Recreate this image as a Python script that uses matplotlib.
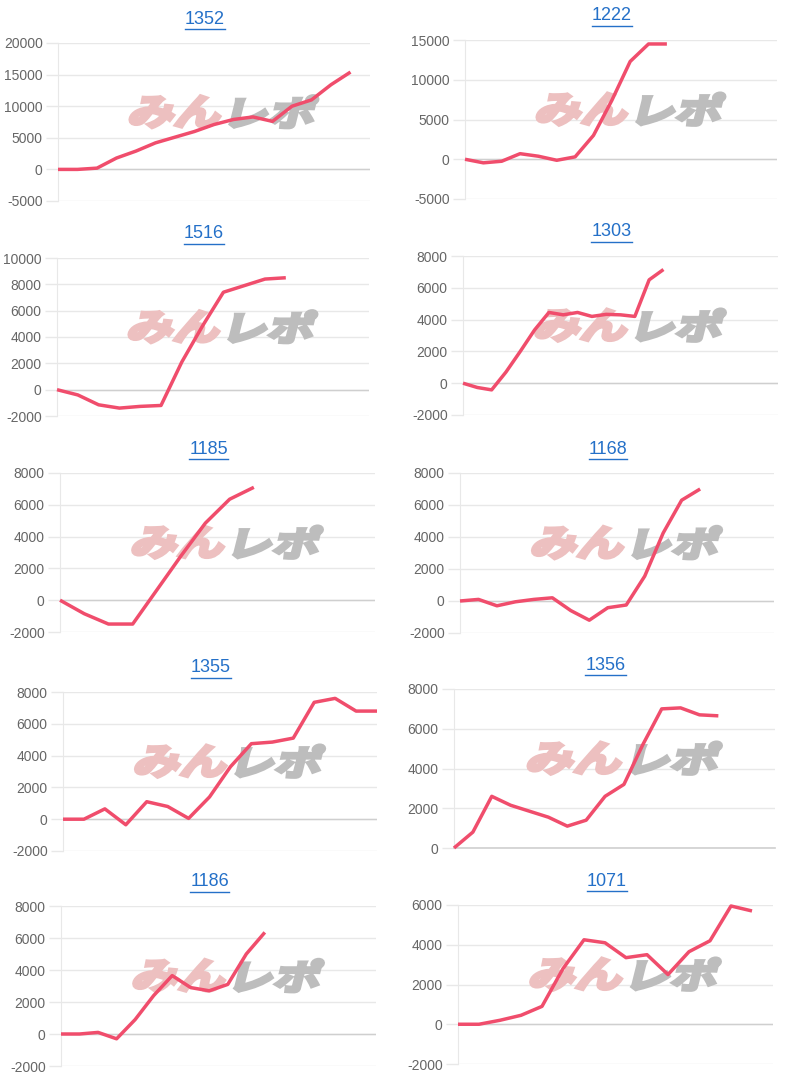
import matplotlib
matplotlib.use('Agg')
import matplotlib.pyplot as plt
from matplotlib.textpath import TextPath
from matplotlib.font_manager import FontProperties
from matplotlib.patches import PathPatch
from matplotlib.transforms import Affine2D, IdentityTransform
from matplotlib.lines import Line2D
import numpy as np

# ---------------- data ----------------
titles = ['1352', '1222', '1516', '1303', '1185', '1168', '1355', '1356', '1186', '1071']

v1352 = [0, 0, 200, 1800, 2900, 4200, 5100, 6000, 7100, 7900, 8300, 7600, 10000, 11000, 13400, 15400]
v1222 = [0, -450, -250, 700, 380, -130, 300, 3000, 7400, 12300, 14500, 14500]
v1516 = [0, -400, -1150, -1400, -1270, -1200, 2100, 4850, 7400, 7900, 8400, 8500]
v1303 = [0, -270, -420, 700, 2000, 3350, 4450, 4300, 4450, 4200, 4330, 4300, 4200, 6500, 7150]
v1185 = [0, -850, -1500, -1500, 650, 2800, 4850, 6350, 7100]
v1168 = [0, 100, -300, -50, 100, 200, -600, -1200, -420, -250, 1550, 4250, 6300, 7000]
v1355 = [0, 0, 650, -350, 1100, 800, 50, 1400, 3300, 4750, 4850, 5100, 7350, 7600, 6800, 6800]
v1356 = [0, 800, 2600, 2150, 1850, 1550, 1100, 1400, 2600, 3200, 5200, 7000, 7050, 6700, 6650]
v1186 = [0, 0, 100, -300, 900, 2400, 3650, 2900, 2700, 3100, 5000, 6350]
v1071 = [0, 0, 200, 450, 900, 2800, 4250, 4100, 3350, 3500, 2500, 3650, 4200, 5950, 5700]

series = [v1352, v1222, v1516, v1303, v1185, v1168, v1355, v1356, v1186, v1071]

# y ranges (min, max, step) and x slot counts
y_ranges = [(-5000, 20000, 5000), (-5000, 15000, 5000), (-2000, 10000, 2000), (-2000, 8000, 2000),
            (-2000, 8000, 2000), (-2000, 8000, 2000), (-2000, 8000, 2000), (0, 8000, 2000),
            (-2000, 8000, 2000), (-2000, 6000, 2000)]
x_slots = [16, 17, 15, 22, 13, 17, 15, 17, 17, 15]

# ---------------- layout (pixels: left, top, right, bottom) ----------------
boxes = [(58, 43, 370, 201), (465, 40, 777, 199),
         (57, 258, 369, 416), (463, 256, 778, 415),
         (60, 473, 375, 632), (460, 473, 774, 633),
         (63, 692, 377, 851), (454, 689, 775, 848),
         (61, 906, 376, 1066), (458, 905, 773, 1064)]

W, H = 800, 1080
LINE = '#f04d6c'
GRID = '#e8e8e8'
ZERO = '#cfcfcf'
TICK = '#666666'
TITLE = '#2470c8'
FONT = 'Liberation Sans'

fig = plt.figure(figsize=(W / 100, H / 100), dpi=100)
fig.patch.set_facecolor('white')

wm_font = FontProperties(family=['Noto Sans CJK JP', 'DejaVu Sans'], weight='bold')


def word_patch(ax, text, color, fx0, fx1, fy0, fy1):
    path = TextPath((0, 0), text, size=1, prop=wm_font)
    ext = path.get_extents()
    (px0, py0) = ax.transAxes.transform((fx0, fy0))
    (px1, py1) = ax.transAxes.transform((fx1, fy1))
    h = py1 - py0
    skew = 14
    shift = h * np.tan(np.radians(skew))
    w = (px1 - px0) - shift
    tr = (Affine2D().translate(-ext.x0, -ext.y0)
          .scale(w / ext.width, h / ext.height)
          .skew_deg(skew, 0)
          .translate(px0, py0))
    p = PathPatch(path, facecolor=color, edgecolor=color, lw=2.6,
                  joinstyle='miter', transform=tr, zorder=1.5)
    ax.add_patch(p)


title_texts = []
axes = []
for i in range(10):
    l, t, r, b = boxes[i]
    ax = fig.add_axes([l / W, 1 - b / H, (r - l) / W, (b - t) / H])
    axes.append(ax)
    vals = series[i]
    ymin, ymax, step = y_ranges[i]
    x = np.arange(len(vals))
    ax.plot(x, vals, color=LINE, lw=2.5, zorder=3, clip_on=False,
            solid_joinstyle='round', solid_capstyle='butt')
    ax.set_xlim(0, x_slots[i])
    ax.set_ylim(ymin, ymax)
    ticks = np.arange(ymin, ymax + 1, step)
    ax.set_yticks(ticks)
    ax.set_yticklabels([str(int(v)) for v in ticks], fontfamily=FONT, fontsize=10, color=TICK)
    ax.set_xticks([])
    ax.grid(axis='y', color=GRID, lw=1, zorder=0)
    ax.set_axisbelow(True)
    if ymin < 0:
        ax.axhline(0, color=ZERO, lw=1, zorder=1)
    else:
        ax.axhline(ymin, color=ZERO, lw=1.2, zorder=1, clip_on=False)
    for s in ['top', 'right', 'bottom']:
        ax.spines[s].set_visible(False)
    ax.spines['left'].set_color(GRID)
    ax.tick_params(axis='y', length=9, color=GRID, pad=2, width=1)
    ax.set_facecolor('none')

    # watermark
    word_patch(ax, 'みん', '#edc0c0', 0.225, 0.535, 0.465, 0.665)
    word_patch(ax, 'レポ', '#bdbdbd', 0.55, 0.835, 0.465, 0.665)

    cx = (l + r) / 2 - 9
    cy = t - 24
    tt = fig.text(cx / W, 1 - cy / H, titles[i], ha='center', va='center',
                  fontfamily=FONT, fontsize=13, color=TITLE)
    title_texts.append(tt)

fig.canvas.draw()
renderer = fig.canvas.get_renderer()
for tt in title_texts:
    bb = tt.get_window_extent(renderer)
    y = bb.y0 - 1
    fig.add_artist(Line2D([bb.x0, bb.x1], [y, y], color=TITLE, lw=1,
                          transform=IdentityTransform()))

fig.savefig('out.png', dpi=100, facecolor='white')
